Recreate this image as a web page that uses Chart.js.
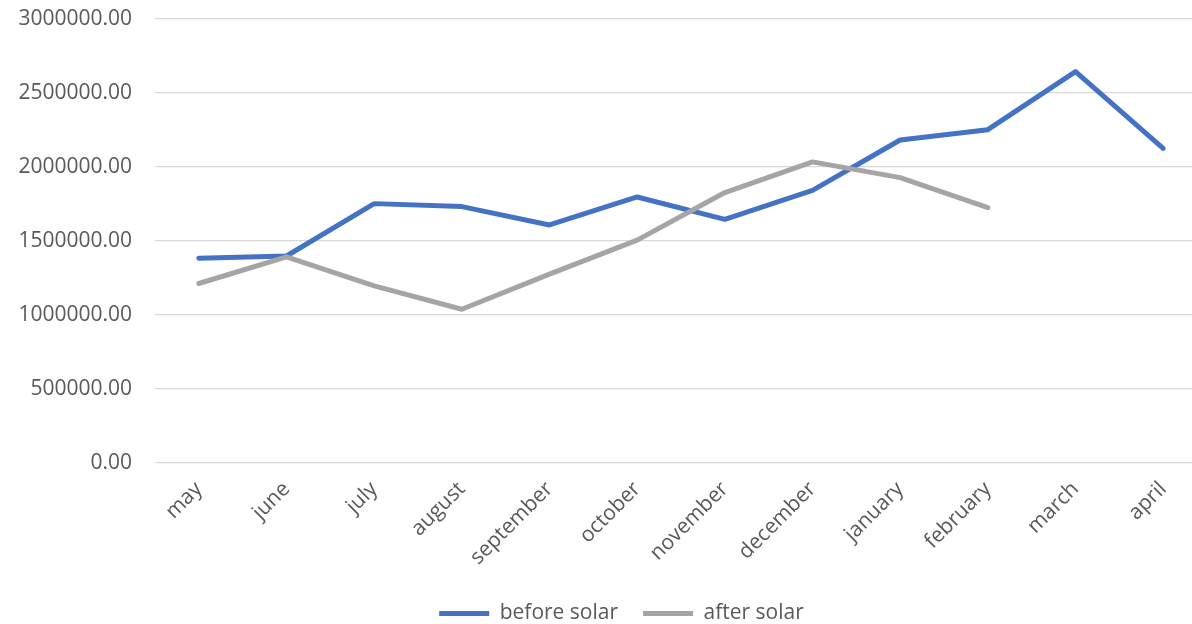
<!DOCTYPE html>
<html><head><meta charset="utf-8">
<script src="https://cdn.jsdelivr.net/npm/chart.js@4"></script>
<style>html,body{margin:0;padding:0;background:#fff;overflow:hidden}
#wrap{width:1207px;height:624px;position:relative}
</style></head><body><div id="wrap"><canvas id="c"></canvas></div>
<script>
const months = ['may','june','july','august','september','october','november','december','january','february','march','april'];
const beforeSolar = [1383000,1398000,1752000,1732000,1608000,1797000,1646000,1842000,2182000,2252000,2644000,2126000];
const afterSolar = [1212000,1392000,1196000,1038000,1275000,1505000,1827000,2034000,1928000,1725000,null,null];
const yTickValues = [0,500000,1000000,1500000,2000000,2500000,3000000];

const LEGEND_DX = 18, LEGEND_DY = 10;
const legendShift = {
  id: 'legendShift',
  afterLayout(chart) {
    const l = chart.legend;
    l.left += LEGEND_DX; l.right += LEGEND_DX;
    l.top += LEGEND_DY; l.bottom += LEGEND_DY;
  }
};

const FONT = "'Open Sans', sans-serif";
const TXT = '#595959';

new Chart(document.getElementById('c'), {
  type: 'line',
  data: {
    labels: months,
    datasets: [
      { label: 'before solar', data: beforeSolar, borderColor: '#4472C4', backgroundColor: '#4472C4',
        borderWidth: 5, borderCapStyle: 'round', borderJoinStyle: 'round', pointRadius: 0, tension: 0, order: 1 },
      { label: 'after solar', data: afterSolar, borderColor: '#A5A5A5', backgroundColor: '#A5A5A5',
        borderWidth: 5, borderCapStyle: 'round', borderJoinStyle: 'round', pointRadius: 0, tension: 0, order: 0, spanGaps: false }
    ]
  },
  options: {
    responsive: true,
    maintainAspectRatio: false,
    animation: false,
    layout: { padding: { top: 19, left: 0, right: 0, bottom: 0 } },
    plugins: {
      tooltip: { enabled: false },
      legend: {
        position: 'bottom',
        labels: {
          usePointStyle: true, pointStyle: 'line', pointStyleWidth: 50,
          sort: (a, b) => a.datasetIndex - b.datasetIndex,
          color: TXT, font: { family: FONT, size: 21 }, padding: 25
        }
      }
    },
    scales: {
      x: {
        offset: true,
        grid: { display: false },
        border: { display: false },
        afterFit(scale) { scale.height -= 8; scale.paddingTop = 0; },
        ticks: { color: TXT, font: { family: FONT, size: 21 }, maxRotation: 45, minRotation: 45, padding: 6, autoSkip: false }
      },
      y: {
        min: 0, max: 3000000,
        afterFit(scale) { scale.width = 155; scale.paddingTop = 0; },
        afterBuildTicks(scale) { scale.ticks = yTickValues.map(v => ({ value: v })); },
        grid: { color: '#D9D9D9', lineWidth: 1.3, drawTicks: false },
        border: { display: false },
        ticks: { color: TXT, font: { family: FONT, size: 21 }, padding: 23, callback: v => Number(v).toFixed(2) }
      }
    }
  },
  plugins: [legendShift]
});
</script></body></html>
